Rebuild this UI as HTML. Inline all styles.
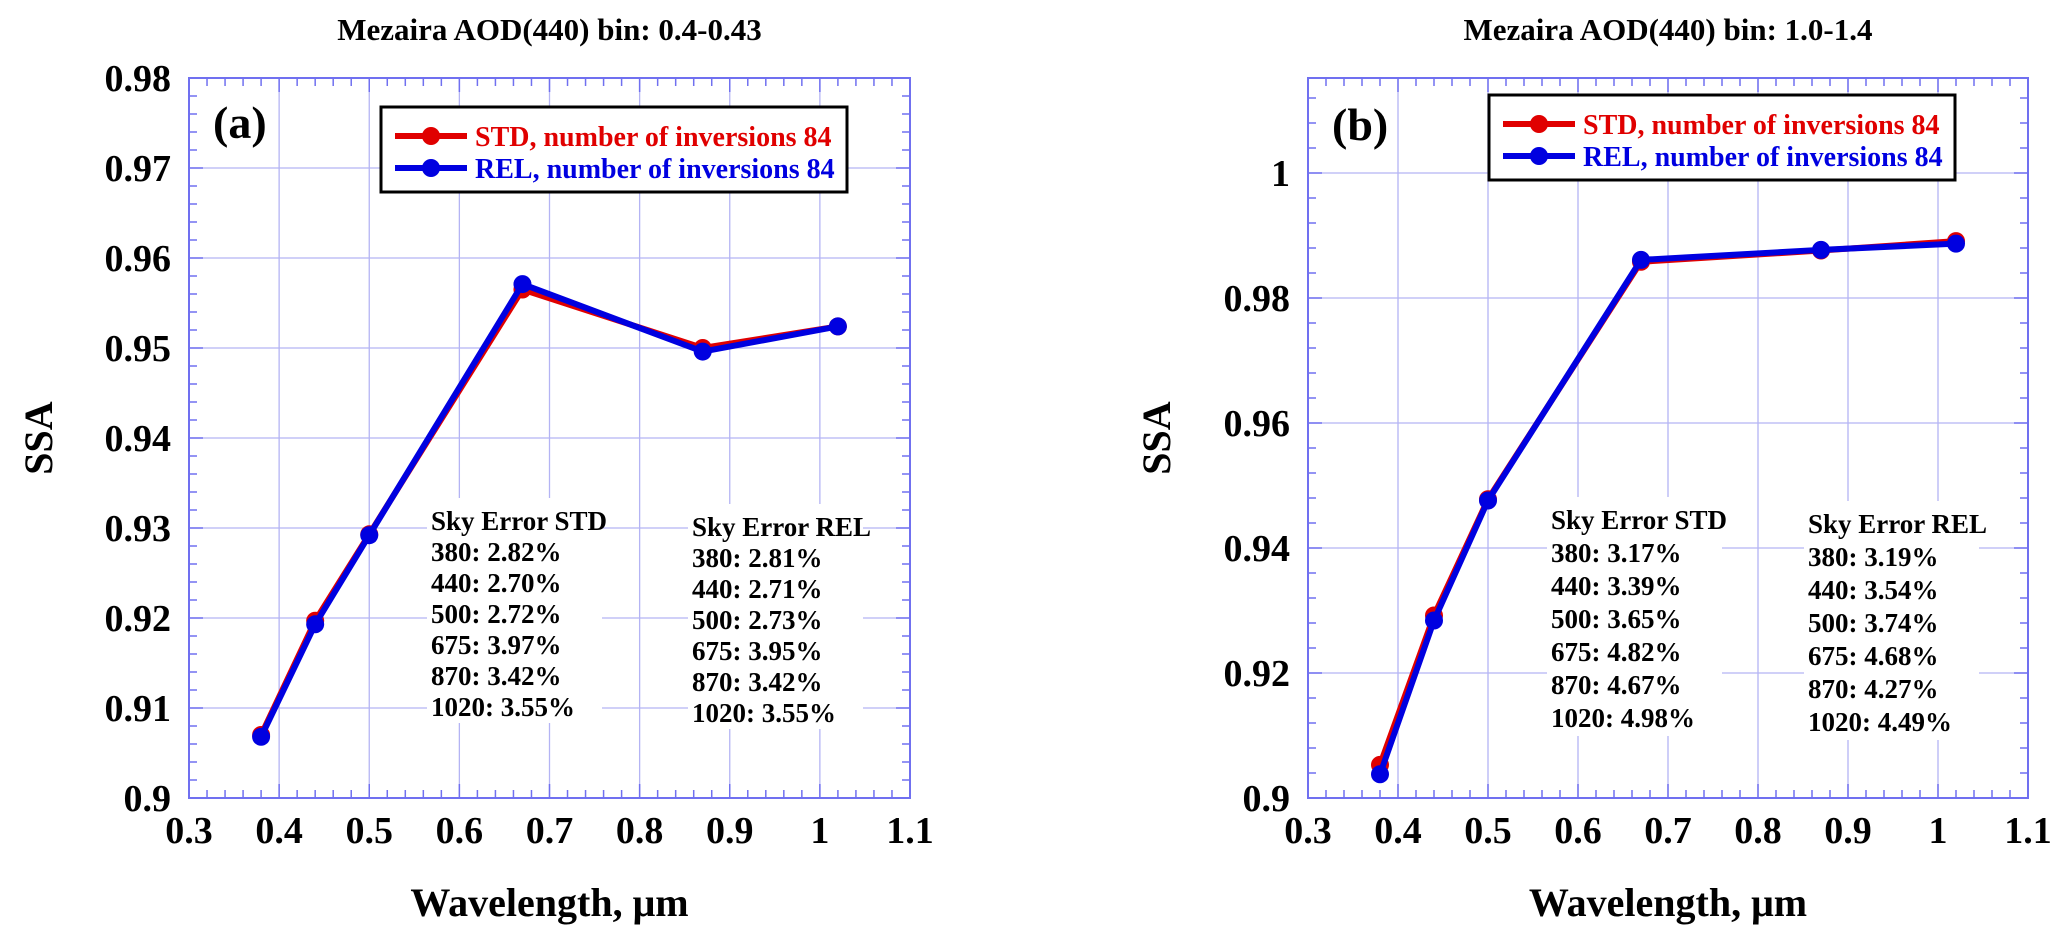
<!DOCTYPE html>
<html><head><meta charset="utf-8"><style>
body{margin:0;background:#fff}
svg{display:block;font-family:"Liberation Serif",serif;font-weight:bold}
</style></head><body>
<svg id="chart" width="2067" height="941" viewBox="0 0 2067 941"></svg>
<script>
const wavelengths = [0.38, 0.44, 0.5, 0.67, 0.87, 1.02];
const stdA = [0.9070, 0.9197, 0.9293, 0.9565, 0.9500, 0.9524];
const relA = [0.9068, 0.9193, 0.9292, 0.9571, 0.9496, 0.9524];
const stdB = [0.9053, 0.9292, 0.9478, 0.9858, 0.9876, 0.9891];
const relB = [0.9038, 0.9284, 0.9476, 0.9861, 0.9877, 0.9887];
const xTicks = [0.3, 0.4, 0.5, 0.6, 0.7, 0.8, 0.9, 1.0, 1.1];
const xTickLabels = ["0.3","0.4","0.5","0.6","0.7","0.8","0.9","1","1.1"];
const yTicksA = [0.9, 0.91, 0.92, 0.93, 0.94, 0.95, 0.96, 0.97, 0.98];
const yTickLabelsA = ["0.9","0.91","0.92","0.93","0.94","0.95","0.96","0.97","0.98"];
const yTicksB = [0.9, 0.92, 0.94, 0.96, 0.98, 1.0];
const yTickLabelsB = ["0.9","0.92","0.94","0.96","0.98","1"];
const skyStdA = ["380: 2.82%","440: 2.70%","500: 2.72%","675: 3.97%","870: 3.42%","1020: 3.55%"];
const skyRelA = ["380: 2.81%","440: 2.71%","500: 2.73%","675: 3.95%","870: 3.42%","1020: 3.55%"];
const skyStdB = ["380: 3.17%","440: 3.39%","500: 3.65%","675: 4.82%","870: 4.67%","1020: 4.98%"];
const skyRelB = ["380: 3.19%","440: 3.54%","500: 3.74%","675: 4.68%","870: 4.27%","1020: 4.49%"];

const NS="http://www.w3.org/2000/svg";
const svg=document.getElementById('chart');
function mk(tag,attrs,parent){const e=document.createElementNS(NS,tag);for(const k in attrs)e.setAttribute(k,attrs[k]);(parent||svg).appendChild(e);return e;}
function txt(s,attrs,parent){const e=mk('text',attrs,parent);e.textContent=s;return e;}

function panel(cfg){
  const g=mk('g',{});
  
  
  const L=cfg.left,R=cfg.right,T=78,B=798;
  const xs=v=>L+(v-0.3)/(1.1-0.3)*(R-L);
  const ys=v=>B-(v-cfg.ymin)/(cfg.ymax-cfg.ymin)*(B-T);
  // grid
  xTicks.forEach(v=>{const l=mk('line',{x1:xs(v),x2:xs(v),y1:T,y2:B,stroke:'#b4b4f4','stroke-width':1.3},g);
    });
  cfg.yTicks.forEach(v=>{const l=mk('line',{x1:L,x2:R,y1:ys(v),y2:ys(v),stroke:'#b4b4f4','stroke-width':1.3},g);
    });
  // minor ticks
  for(let i=0;i<=40;i++){const v=0.3+i*0.02;const x=xs(v);const len=(i%5===0)?14:8;
    mk('line',{x1:x,x2:x,y1:B,y2:B-len,stroke:'#7070f0','stroke-width':1.5},g);
    mk('line',{x1:x,x2:x,y1:T,y2:T+len,stroke:'#7070f0','stroke-width':1.5},g);}
  const nMin=Math.round((cfg.ymax-cfg.ymin)/cfg.minor);
  for(let i=0;i<=nMin+1;i++){const v=cfg.ymin+i*cfg.minor;if(v>cfg.ymax+1e-9)break;const y=ys(v);
    const major=cfg.yTicks.some(t=>Math.abs(t-v)<1e-6);const len=major?14:8;
    mk('line',{x1:L,x2:L+len,y1:y,y2:y,stroke:'#7070f0','stroke-width':1.5},g);
    mk('line',{x1:R,x2:R-len,y1:y,y2:y,stroke:'#7070f0','stroke-width':1.5},g);}
  const fr=mk('rect',{x:L,y:T,width:R-L,height:B-T,fill:'none',stroke:'#7070f0','stroke-width':2},g);
  
  // tick labels
  xTicks.forEach((v,i)=>{const t=txt(xTickLabels[i],{x:xs(v),y:843,'font-size':38,'text-anchor':'middle'},g);
    });
  cfg.yTicks.forEach((v,i)=>{const t=txt(cfg.yLabels[i],{x:L-18,y:ys(v)+13,'font-size':38,'text-anchor':'end'},g);
    });
  // titles
  const tt=txt(cfg.title,{x:(L+R)/2,y:40,'font-size':31,'text-anchor':'middle'},g);
  
  const xl=txt('Wavelength, μm',{x:(L+R)/2,y:916,'font-size':40,'text-anchor':'middle'},g);
  
  const yl=txt('SSA',{x:cfg.ssaX,y:438,'font-size':40,'text-anchor':'middle',transform:`rotate(-90 ${cfg.ssaX} 438)`},g);
  
  const pl=txt(cfg.label,{x:L+24,y:cfg.labelY,'font-size':46},g);
  
  // series
  [[cfg.std,'#e00000','std'],[cfg.rel,'#0000e0','rel']].forEach(([arr,col,nm])=>{
    const pts=arr.map((v,i)=>xs(wavelengths[i])+','+ys(v)).join(' ');
    const p=mk('polyline',{points:pts,fill:'none',stroke:col,'stroke-width':6,'stroke-linejoin':'round'},g);
    
    arr.forEach((v,i)=>{const c=mk('circle',{cx:xs(wavelengths[i]),cy:ys(v),r:9,fill:col},g);
      });
  });
  // legend
  const lg=mk('g',{},g);
  
  const lx=cfg.legX,ly=cfg.legY;
  mk('rect',{x:lx,y:ly,width:466,height:85,fill:'#fff',stroke:'#000','stroke-width':3},lg);
  [['STD, number of inversions 84','#e00000',29],['REL, number of inversions 84','#0000e0',61]].forEach(([s,c,dy])=>{
    const e=mk('g',{},lg);
    
    mk('line',{x1:lx+14,x2:lx+86,y1:ly+dy,y2:ly+dy,stroke:c,'stroke-width':6},e);
    mk('circle',{cx:lx+50,cy:ly+dy,r:9,fill:c},e);
    txt(s,{x:lx+94,y:ly+dy+10,'font-size':28,fill:c},e);
  });
  // sky error text
  [[cfg.skyStd,'Sky Error STD',cfg.stdX,cfg.stdY],[cfg.skyRel,'Sky Error REL',cfg.relX,cfg.relY]].forEach(([arr,h,x,y])=>{
    const b=mk('g',{},g);
    
    mk('rect',{x:x-4,y:y-24,width:175,height:cfg.lh*7+8,fill:'#fff'},b);
    txt(h,{x:x,y:y+8,'font-size':27},b);
    arr.forEach((s,i)=>txt(s,{x:x,y:y+8+(i+1)*cfg.lh,'font-size':27},b));
  });
}
panel({id:'a',left:189,right:910,ymin:0.9,ymax:0.98,minor:0.002,yTicks:yTicksA,yLabels:yTickLabelsA,
  title:'Mezaira AOD(440) bin: 0.4-0.43',label:'(a)',labelY:138,ssaX:52,legX:381,legY:107,
  std:stdA,rel:relA,skyStd:skyStdA,skyRel:skyRelA,stdX:431,stdY:522,relX:692,relY:528,lh:31});
panel({id:'b',left:1308,right:2028,ymin:0.9,ymax:1.0152,minor:0.004,yTicks:yTicksB,yLabels:yTickLabelsB,
  title:'Mezaira AOD(440) bin: 1.0-1.4',label:'(b)',labelY:140,ssaX:1170,legX:1489,legY:95,
  std:stdB,rel:relB,skyStd:skyStdB,skyRel:skyRelB,stdX:1551,stdY:521,relX:1808,relY:525,lh:33});
</script>
</body></html>
